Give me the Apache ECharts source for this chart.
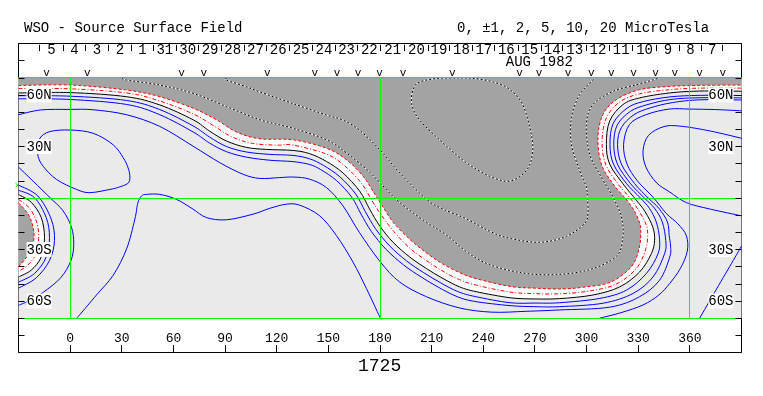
<!DOCTYPE html>
<html>
<head>
<meta charset="UTF-8">
<title>WSO - Source Surface Field</title>
<script src="https://cdn.jsdelivr.net/npm/echarts@6/dist/echarts.min.js"></script>
</head>
<body style="margin:0;background:#fff;">
<div id="chart" style="width:763px;height:396px;"></div>
<script>
// contour lines, [longitude, latitude]
var neutralLine = [[-30,61.2],[0,61.4],[32.8,59],[52.1,54.2],[71.4,45.6],[81,39],[90.8,33.2],[102.4,29.5],[114,28.3],[129.5,27.7],[139.2,25.8],[148.9,21.3],[158.5,14.6],[168.2,4],[174,-6.5],[179.8,-16.2],[187.6,-25.8],[197.3,-34.4],[207,-41.1],[216.6,-46.9],[226.3,-51.8],[236,-54.6],[255.6,-58.1],[270,-58.8],[284.4,-58.6],[303.7,-56.5],[319.2,-51.8],[330.8,-43.1],[337.6,-32.5],[339.5,-24.8],[338.5,-17],[334,-8],[328.9,-1.3],[321.1,8.3],[313.4,19.8],[311.5,31.3],[313.4,44.8],[321.1,54.4],[330.8,58.3],[348.3,61.2],[365.7,62.3],[390,62.2]];
var neutralLeft = [[-30,2],[-22.6,-2.5],[-16.8,-11.4],[-14.9,-22.9],[-16.8,-34.4],[-22.6,-42],[-30,-46]];
var grayEdge = [[-30,65.5],[0,65.8],[32.8,62.9],[52.1,59],[71.4,52.3],[85,45.6],[96.6,38.5],[110.2,34.5],[129.5,33.9],[148.9,29],[160.5,22.3],[170.2,12.7],[176.5,3],[181,-4],[187.6,-14],[197.3,-24],[207,-32],[216.6,-38.5],[226.3,-43.5],[236,-47],[255.6,-51.5],[270,-52.5],[284.4,-53],[298,-52],[314,-49],[326,-40],[330.5,-29.5],[331.5,-19],[329.9,-12],[325,-3.3],[315.3,8.3],[308.6,19.8],[306.6,35.2],[309.5,48.6],[317.3,57.3],[330.8,63.1],[348.3,65],[365.7,65.6],[390,65.8]];
var grayEdgeLeft = [[-30,-2.7],[-24.4,-9.4],[-21.5,-17.1],[-21.2,-24.8],[-24,-32.5],[-30,-40.2]];
var redInner = [[-30,63.8],[0,63.6],[32.8,61.2],[52.1,56.5],[71.4,49],[83,42.3],[93.5,35.8],[106,31.8],[120,30.8],[129.5,30.8],[148.9,25.6],[159.5,18.7],[169.2,8.6],[175.4,-1.6],[180.6,-9.7],[188,-19.5],[197.3,-29.2],[207,-36.5],[216.6,-42.7],[226.3,-47.6],[236,-50.8],[255.6,-54.8],[270,-55.7],[284.4,-55.8],[301,-54.3],[316.7,-50.4],[328.5,-41.6],[334,-31],[335.5,-22],[334.2,-14.5],[327,-2.3],[318.2,8.3],[311,19.8],[309,33.3],[311.5,46.7],[319.2,55.9],[330.8,60.7],[348.3,63.1],[365.7,64],[390,64]];
var redInnerLeft = [[-30,-0.8],[-23.5,-6],[-19.3,-14.5],[-18.3,-23.5],[-19.8,-32.5],[-24.5,-39],[-30,-42.7]];
var blue1 = [[-30,59.6],[0,59.3],[32.8,56.8],[52.1,51.5],[71.4,42],[81,35.5],[90.8,30],[102.4,26.8],[116,25.4],[129.5,24.8],[139.2,22.8],[147.3,18.9],[156.6,12.4],[165.9,2.3],[171.5,-8],[177.4,-17.9],[185.5,-27.8],[195.5,-36.7],[205.4,-43.5],[215.2,-49.4],[225.2,-54.5],[235.3,-57.4],[255.5,-61],[270,-61.2],[284.4,-61],[307.6,-58.5],[323.1,-53.7],[334.7,-44],[341.5,-32.5],[342.4,-24],[340.5,-14],[336.5,-6],[331.3,0],[323.3,8.3],[315.6,19.8],[313.6,31.3],[315.5,43.5],[323.5,52.3],[333,56.2],[348.5,58.9],[366,59.8],[390,59.7]];
var blue2 = [[-30,57.8],[0,57.4],[32.8,54.5],[52.1,48.5],[71.4,38.5],[81,32],[90.8,27],[102.4,23.8],[116,22],[129.5,21.2],[139.2,19.5],[145.6,16.5],[154.7,10.2],[163.5,0.6],[169,-9.4],[175,-19.5],[183.4,-29.8],[193.7,-39],[203.9,-46],[213.8,-51.9],[224.2,-57.2],[234.7,-60.2],[255.6,-62.7],[270,-63.3],[284.4,-63.3],[309.5,-61.3],[327,-55.6],[338.6,-46],[345.3,-32.5],[346,-24.8],[344,-14],[339.5,-6],[333.6,0],[325.6,8.3],[317.9,19.8],[315.8,31.3],[317.8,42.5],[325.5,50.5],[335,54.3],[349,57.4],[366,58.4],[390,58.3]];
var blue3 = [[-30,48.5],[-17,51.3],[0,51.6],[13.4,51.4],[32.8,48.5],[52.1,41.7],[71.4,30.2],[86.9,20.6],[100.5,13.8],[110.2,11.4],[121.8,11.9],[130,12.2],[139,11],[149,6],[158.5,-4.6],[168,-20],[180,-37],[191.5,-49],[207,-57.5],[226,-64],[245,-66.5],[265,-66],[284.4,-65.2],[313.4,-63.6],[330.8,-57.5],[342.4,-47.9],[348.3,-34.4],[348.8,-28],[348,-22],[347,-14],[342,-6],[335.8,0],[328,8.3],[320.2,19.8],[318,31.3],[320.2,41],[327.5,48.5],[337,52.5],[350,55.6],[366,57.2],[390,57.1]];
var blueLeft1 = [[-30,4.5],[-20.7,0.2],[-13.9,-11.4],[-12,-22.9],[-13.9,-34.4],[-20.7,-44],[-30,-49]];
var blueLeft2 = [[-30,7.5],[-18.8,1.2],[-11,-12.3],[-9.1,-24.8],[-12,-36.4],[-19.7,-46.5],[-30,-52.5]];
var blueLeftOuter = [[-30,18],[-21.5,9.8],[-11.5,0],[-4.1,-7.5],[0.8,-17.1],[2.1,-26.7],[0.5,-36.4],[-5.5,-46.5],[-15.7,-55],[-23,-59.5],[-30,-62.5]];
var blueLoop = [[-18.6,29],[-17.6,34.8],[-11.8,38.7],[0,39.6],[13.4,37.7],[25,31],[30.8,23.5],[33.7,17.5],[34.7,12],[33.5,8.5],[28,6.2],[23.1,5],[11.4,3.1],[3.7,5],[-7.9,10.8],[-15.7,18.5],[-18.6,24.2],[-18.6,29]];
var blueEquator = [[3.8,-70],[5.6,-68],[15.3,-56.5],[25,-45],[32.8,-29.6],[37.6,-12.3],[39.3,-3],[41.5,1.2],[44.4,2.1],[52.1,2.1],[61.8,-0.8],[71.4,-6.5],[79.2,-11.4],[90.8,-12.7],[106.3,-9.4],[116,-6],[125.7,-3.6],[133.4,-4.2],[145,-10.4],[154.7,-21.9],[164.3,-37.3],[172.1,-52.7],[179.8,-69.1],[180.3,-70]];
var blueOuterRight = [[307.6,-70],[320,-66.8],[332.8,-62.3],[342,-56.5],[348.3,-49.8],[354.5,-41],[358.5,-31],[358,-22],[353,-15],[346.3,-9],[338.5,0.6],[329.5,10],[323.5,19.8],[321.5,31.3],[325,42.9],[334.7,48.6],[348,51.8],[360,51.8],[375,51.5],[390,50.8]];
var blueArch = [[390,34.8],[372,39],[355,41.8],[345,41.6],[336,36.5],[332.8,27.5],[334.5,18],[340.7,8.8],[348.3,3.5],[358,-2.7],[372,-6.5],[390,-10.4]];
var blueCorner = [[390,-28],[385.2,-36.4],[375.5,-53],[365.7,-70]];
var negLine1 = [[30.5,70],[32.8,68.7],[52.1,65.8],[71.4,61],[90.8,53.3],[110.2,45.6],[129.5,40.6],[149,33.9],[160.8,26],[172.3,16.6],[180,8.8],[191.5,-2.7],[207,-14.2],[219,-21.9],[230.5,-31.5],[243.7,-38.8],[263,-43.7],[282.5,-44.6],[301.8,-41.7],[317.3,-34],[321.1,-22.5],[320.2,-11],[315.3,0.6],[308.6,12.1],[301.8,25.6],[299.9,42.9],[303.7,54.4],[315.3,62.1],[328.9,66],[338.6,68.8],[342,70]];
var negLine2 = [[91,70],[90.8,68.7],[102.4,64.8],[110.4,61.7],[129.5,55],[149,48.3],[158.5,45.4],[168,39.6],[180,28],[191.5,14.6],[207,-0.8],[216.7,-6.5],[230.5,-12.3],[244,-19.5],[255.4,-23.5],[272.8,-25.8],[288.3,-22.3],[298.9,-14.8],[300.8,-9],[300.5,0],[299.9,6.3],[296,16],[291.2,31.3],[291.2,46.7],[296,60.2],[303.9,68.8],[305.5,70]];
var negLoop = [[226,70],[213,69.6],[203,67.5],[199.4,63.6],[198.4,55],[203,45.4],[216.8,31.9],[230.4,20.4],[244,12.6],[255.4,9.8],[265,16],[268.5,25.6],[267.9,37.1],[262.9,54.4],[255,63.5],[246,67.5],[236,69.5],[226,70]];

// grid lines, longitude ticks and top strip
var greenLons = [0, 180, 360];
var greenLats = [70, 0, -70];
var lonTicks = [0, 30, 60, 90, 120, 150, 180, 210, 240, 270, 300, 330, 360];
var dayTickLons = [-17.6,-4.1,9.1,22.1,35.7,48.2,61.8,74.7,87.9,101,114.3,127.5,140.8,154,167.2,180.4,194.4,207.9,220.6,234,246.6,260.2,273.7,286.3,299.9,313.4,326.9,340.5,354,366.7,379.2];
var dayLabels = ['5','4','3','2','1','31','30','29','28','27','26','25','24','23','22','21','20','19','18','17','16','15','14','13','12','11','10','9','8','7'];
var markLons = [-13.7,9.9,64.7,77.6,114.6,142.1,155,167.2,179.8,193.4,222,261.1,272.4,289.2,302.8,314.4,327.3,340.1,351.2,365.7,379.2];
var latLabels = {'60': '60N', '30': '30N', '-30': '30S', '-60': '60S'};

var FONT = '"Liberation Mono", "DejaVu Sans Mono", monospace';
var GRAY = '#a3a3a3';
var LIGHT = '#eaeaea';
var TOPCLOSE = [[390, 70], [-30, 70]];

var layers = [
    {kind: 'rect'},
    {kind: 'poly', pts: neutralLine, close: TOPCLOSE, fill: '#ffffff'},
    {kind: 'poly', pts: neutralLeft, close: [], fill: '#ffffff'},
    {kind: 'poly', pts: grayEdge, close: TOPCLOSE, fill: GRAY},
    {kind: 'poly', pts: grayEdgeLeft, close: [], fill: GRAY},
    {kind: 'line', pts: blue1, color: '#0000ff'},
    {kind: 'line', pts: blue2, color: '#0000ff'},
    {kind: 'line', pts: blue3, color: '#0000ff'},
    {kind: 'line', pts: blueLeft1, color: '#0000ff'},
    {kind: 'line', pts: blueLeft2, color: '#0000ff'},
    {kind: 'line', pts: blueLeftOuter, color: '#0000ff'},
    {kind: 'line', pts: blueLoop, color: '#0000ff', closed: true},
    {kind: 'line', pts: blueEquator, color: '#0000ff'},
    {kind: 'line', pts: blueOuterRight, color: '#0000ff'},
    {kind: 'line', pts: blueArch, color: '#0000ff'},
    {kind: 'line', pts: blueCorner, color: '#0000ff'},
    {kind: 'line', pts: redInner, color: '#ff0000', dash: [4, 2, 1, 2]},
    {kind: 'line', pts: redInnerLeft, color: '#ff0000', dash: [4, 2, 1, 2]},
    {kind: 'line', pts: grayEdge, color: '#ff0000', dash: [3, 2]},
    {kind: 'line', pts: grayEdgeLeft, color: '#ff0000', dash: [3, 2]},
    {kind: 'line', pts: neutralLine, color: '#000000'},
    {kind: 'line', pts: neutralLeft, color: '#000000'},
    {kind: 'line', pts: negLine1, color: '#ffffff'},
    {kind: 'line', pts: negLine1, color: '#000000', dash: [2, 2]},
    {kind: 'line', pts: negLine2, color: '#ffffff'},
    {kind: 'line', pts: negLine2, color: '#000000', dash: [2, 2]},
    {kind: 'line', pts: negLoop, color: '#ffffff', closed: true},
    {kind: 'line', pts: negLoop, color: '#000000', dash: [2, 2], closed: true},
    {kind: 'green'},
    {kind: 'lonticks'},
    {kind: 'strip'}
];

function smoothPath(px, closed) {
    var n = px.length;
    var d = 'M' + px[0][0] + ' ' + px[0][1];
    for (var i = 0; i < n - 1; i++) {
        var p0 = px[i - 1] || (closed ? px[n - 2] : px[i]);
        var p1 = px[i], p2 = px[i + 1];
        var p3 = px[i + 2] || (closed ? px[1] : px[i + 1]);
        d += ' C' + (p1[0] + (p2[0] - p0[0]) / 6) + ' ' + (p1[1] + (p2[1] - p0[1]) / 6) +
            ' ' + (p2[0] - (p3[0] - p1[0]) / 6) + ' ' + (p2[1] - (p3[1] - p1[1]) / 6) +
            ' ' + p2[0] + ' ' + p2[1];
    }
    return d;
}

function crisp(v) {
    return Math.round(v - 0.5) + 0.5;
}

function vline(api, lon, lat1, lat2, color) {
    var a = api.coord([lon, lat1]), b = api.coord([lon, lat2]);
    return {type: 'line', shape: {x1: crisp(a[0]), y1: a[1], x2: crisp(b[0]), y2: b[1]},
        style: {stroke: color, lineWidth: 1}};
}

function renderItem(params, api) {
    var L = layers[params.dataIndex];
    var toPx = function (p) { return api.coord(p); };
    if (L.kind === 'rect') {
        var a = api.coord([-30, 70]), b = api.coord([390, -70]);
        return {type: 'rect', shape: {x: a[0], y: a[1], width: b[0] - a[0], height: b[1] - a[1]},
            style: {fill: LIGHT}};
    }
    if (L.kind === 'poly') {
        var d = smoothPath(L.pts.map(toPx), false);
        L.close.forEach(function (c) {
            var q = api.coord(c);
            d += ' L' + q[0] + ' ' + q[1];
        });
        return {type: 'path', shape: {pathData: d + ' Z'}, style: {fill: L.fill, stroke: null}};
    }
    if (L.kind === 'line') {
        return {type: 'path', shape: {pathData: smoothPath(L.pts.map(toPx), L.closed)},
            style: {fill: null, stroke: L.color, lineWidth: 1, lineDash: L.dash || null}};
    }
    var children = [];
    if (L.kind === 'green') {
        greenLons.forEach(function (lon) {
            children.push(vline(api, lon, 70, -70, '#00ff00'));
        });
        greenLats.forEach(function (lat) {
            var a = api.coord([-30, lat]), b = api.coord([390, lat]);
            children.push({type: 'line', shape: {x1: a[0], y1: crisp(a[1]), x2: b[0], y2: crisp(b[1])},
                style: {stroke: '#00ff00', lineWidth: 1}});
        });
        var m = api.coord([-30, 7.5]);
        children.push({type: 'polyline', shape: {points: [[m[0] - 3, m[1] - 2], [m[0] - 0.5, m[1]], [m[0] - 3, m[1] + 2]]},
            style: {stroke: '#00ff00', lineWidth: 1, fill: null}});
        return {type: 'group', children: children};
    }
    if (L.kind === 'lonticks') {
        // longitude ticks rising from the bottom edge, drawn as 1px filled bars
        lonTicks.forEach(function (lon) {
            var a = api.coord([lon, -90]), b = api.coord([lon, -85.8]);
            children.push({type: 'rect',
                shape: {x: Math.round(a[0] - 0.5), y: Math.round(b[1]), width: 1, height: Math.round(a[1] - b[1])},
                style: {fill: '#000'}});
        });
        return {type: 'group', children: children};
    }
    // top strip: day ticks, day numbers, observation marks, month
    dayTickLons.forEach(function (lon) {
        children.push(vline(api, lon, 89.2, 85.6, '#000'));
    });
    dayLabels.forEach(function (t, i) {
        var p = api.coord([(dayTickLons[i] + dayTickLons[i + 1]) / 2, 86.2]);
        children.push({type: 'text', x: p[0], y: p[1],
            style: {text: t, font: '14px ' + FONT, fill: '#000', align: 'center', verticalAlign: 'middle'}});
    });
    markLons.forEach(function (lon) {
        var p = api.coord([lon, 72.6]);
        children.push({type: 'text', x: p[0], y: p[1],
            style: {text: 'v', font: '11px ' + FONT, fill: '#000', align: 'center', verticalAlign: 'middle'}});
    });
    var mp = api.coord([272.6, 79.2]);
    children.push({type: 'text', x: mp[0], y: mp[1],
        style: {text: 'AUG 1982', font: '14px ' + FONT, fill: '#000', align: 'center', verticalAlign: 'middle'}});
    return {type: 'group', children: children};
}

function latAxis(pos) {
    return {
        type: 'value', position: pos, min: -90, max: 90, interval: 10, z: 5,
        axisLine: {show: false, onZero: false},
        axisTick: {show: true, inside: true, length: 6, lineStyle: {color: '#000'}},
        splitLine: {show: false},
        axisLabel: {
            inside: true, margin: 8,
            formatter: function (v) { return latLabels[v] ? '{b|' + latLabels[v] + '}' : ''; },
            rich: {b: {fontFamily: FONT, fontSize: 14, color: '#000', backgroundColor: '#fff', padding: [1, 0, 0, 0]}}
        }
    };
}

var chart = echarts.init(document.getElementById('chart'));
var titleStyle = {fontFamily: FONT, fontSize: 14, fontWeight: 'normal', color: '#000'};
chart.setOption({
    animation: false,
    backgroundColor: '#fff',
    title: [
        {text: 'WSO - Source Surface Field', left: 24, top: 21, padding: 0, textStyle: titleStyle},
        {text: '0, \u00b11, 2, 5, 10, 20 MicroTesla', left: 457, top: 21, padding: 0, textStyle: titleStyle},
        {text: '1725', left: 358, top: 357, padding: 0,
            textStyle: {fontFamily: FONT, fontSize: 18, fontWeight: 'normal', color: '#000'}}
    ],
    grid: {left: 18.5, right: 21.5, top: 43.5, bottom: 43.5, show: true,
        borderColor: '#000', borderWidth: 1, backgroundColor: '#fff'},
    xAxis: {
        type: 'value', min: -30, max: 390, interval: 30, z: 5,
        axisLine: {show: false, onZero: false},
        axisTick: {show: false},
        splitLine: {show: false},
        axisLabel: {
            inside: true, margin: 7, color: '#000', fontFamily: FONT, fontSize: 13,
            formatter: function (v) { return (v < 0 || v > 360) ? '' : String(v); }
        }
    },
    yAxis: [latAxis('left'), latAxis('right')],
    series: [{
        type: 'custom',
        coordinateSystem: 'cartesian2d',
        silent: true,
        clip: false,
        z: 3,
        renderItem: renderItem,
        data: layers.map(function () { return [0, 0]; })
    }]
});
</script>
</body>
</html>
